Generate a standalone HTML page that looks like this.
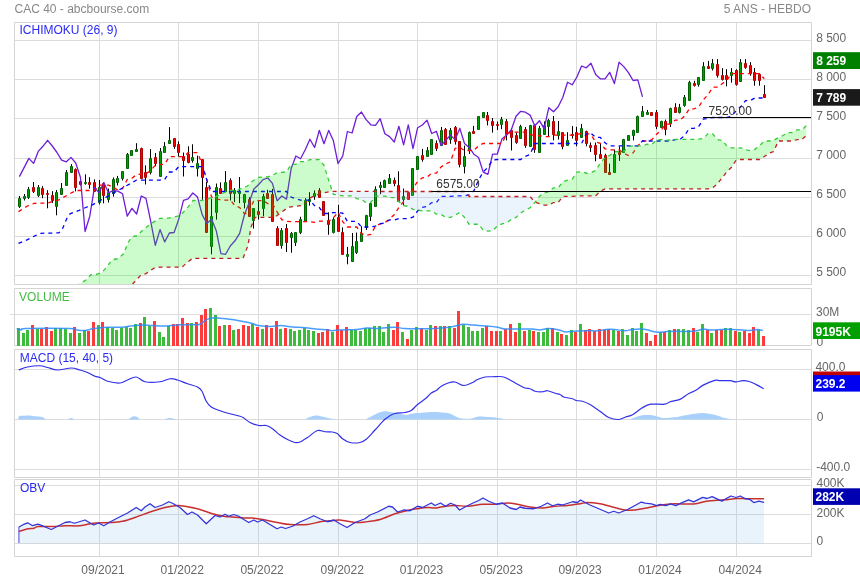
<!DOCTYPE html><html><head><meta charset="utf-8"><style>html,body{margin:0;padding:0;background:#fff;}svg{display:block;}text{font-family:"Liberation Sans",Arial,sans-serif;font-size:12px;will-change:transform;}</style></head><body>
<svg width="860" height="580" viewBox="0 0 860 580">
<rect width="860" height="580" fill="#fff"/>
<text x="14.5" y="12.6" fill="#888">CAC 40 - abcbourse.com</text>
<text x="811" y="12.6" fill="#888" text-anchor="end">5 ANS - HEBDO</text>
<path d="M14.5 40.5H811.5M14.5 79.5H811.5M14.5 118.5H811.5M14.5 158.5H811.5M14.5 197.5H811.5M14.5 236.5H811.5M14.5 275.5H811.5M99.5 22.5V284.5M178.5 22.5V284.5M258.5 22.5V284.5M338.5 22.5V284.5M417.5 22.5V284.5M497.5 22.5V284.5M576.5 22.5V284.5M656.5 22.5V284.5M736.5 22.5V284.5M14.5 314.5H811.5M99.5 288.5V345.5M178.5 288.5V345.5M258.5 288.5V345.5M338.5 288.5V345.5M417.5 288.5V345.5M497.5 288.5V345.5M576.5 288.5V345.5M656.5 288.5V345.5M736.5 288.5V345.5M14.5 369.5H811.5M14.5 419.5H811.5M14.5 469.5H811.5M99.5 349.5V477.5M178.5 349.5V477.5M258.5 349.5V477.5M338.5 349.5V477.5M417.5 349.5V477.5M497.5 349.5V477.5M576.5 349.5V477.5M656.5 349.5V477.5M736.5 349.5V477.5M14.5 485.5H811.5M14.5 514.5H811.5M14.5 543.5H811.5M99.5 479.5V556.5M178.5 479.5V556.5M258.5 479.5V556.5M338.5 479.5V556.5M417.5 479.5V556.5M497.5 479.5V556.5M576.5 479.5V556.5M656.5 479.5V556.5M736.5 479.5V556.5" stroke="#dcdcdc" stroke-width="1" fill="none"/>
<path d="M14.5 22.5H811.5V284.5H14.5ZM14.5 288.5H811.5V345.5H14.5ZM14.5 349.5H811.5V477.5H14.5ZM14.5 479.5H811.5V556.5H14.5Z" stroke="#d4d4d4" fill="none"/>
<path d="M10 314.5H14.5" stroke="#dcdcdc"/>
<defs><clipPath id="cm"><rect x="15" y="23" width="796" height="261"/></clipPath></defs>
<g clip-path="url(#cm)">
<path d="M19.5 196V208M24.5 194V200.5M28.5 187V199M33.5 182V193M38.5 185V197M42.5 186.1V198.2M47.5 190.2V208.3M52.5 191.2V202.9M56.5 190V215.3M61.5 183V195M66.5 170V186M71.5 164.1V173M75.5 168.4V191.4M80.5 179.3V185.5M85.5 174.3V184.7M89.5 177.2V188.6M94.5 179.3V192M99.5 180V204.4M103.5 182.7V203.3M108.5 188.6V202.5M113.5 177.4V196.6M117.5 175.9V185.5M122.5 171.2V180.5M127.5 153V168.4M131.5 150.3V155.6M136.5 143.2V152M141.5 147.6V178.3M145.5 165.4V184.5M150.5 149.1V174.4M155.5 153V166.2M160.5 148V176.7M164.5 142.1V152.5M169.5 127.1V142.9M174.5 138.3V148.8M178.5 141.4V156.6M183.5 152.5V176.5M188.5 146.3V163.3M192.5 144.3V162.6M197.5 155.6V176.5M202.5 159.1V199.8M206.5 182V231.5M211.5 198.7V254.3M216.5 183.5V219.6M220.5 182.4V194M225.5 171.1V191.2M230.5 178.4V200.5M234.5 188.1V202.1M239.5 177V203.2M244.5 193.8V208.4M249.5 197.2V216.2M253.5 208.4V228.6M258.5 200.5V219.6M263.5 193.8V216.2M267.5 189.8V198.3M272.5 188.9V221.2M277.5 226.2V245.3M281.5 228V248.7M286.5 224V252M291.5 232V252.7M295.5 232.5V246M300.5 216.8V234.1M305.5 198.2V221.3M309.5 192.2V205.6M314.5 190.4V199.8M319.5 188.1V197.1M323.5 201.1V215.5M328.5 212.3V234.8M333.5 217.3V233.4M338.5 204.9V230.7M342.5 227.4V253.6M347.5 246.9V264.3M352.5 233V262M356.5 232.5V254M361.5 226.2V242M366.5 214.8V230M370.5 203.1V221M375.5 186.3V206.5M380.5 181.8V194.2M384.5 179.6V187.4M389.5 174V183.4M394.5 177.6V186.3M398.5 171.3V202M403.5 188.6V205.4M408.5 191.9V199.1M412.5 168.4V195.3M417.5 156V169.1M422.5 148.9V161.7M427.5 147.1V156.5M431.5 139.2V153.8M436.5 140.4V151.1M441.5 126.9V146M445.5 128V143.7M450.5 128V143.8M455.5 126V144.6M459.5 141.1V167.4M464.5 145.6V173.4M469.5 131.5V153.9M473.5 125.9V133M478.5 116.5V128.6M483.5 112V116.9M487.5 112V125.4M492.5 118V132.6M497.5 121.5V129.9M501.5 116.9V129.2M506.5 119.1V140.4M511.5 128.2V150.5M516.5 132.6V143.8M520.5 124.8V138.2M525.5 127V147.8M530.5 124.8V145.6M534.5 124.8V152.8M539.5 125.9V151.5M544.5 121.4V134M548.5 118.9V136.2M553.5 116V140.3M558.5 121V139.6M562.5 132.2V149.2M567.5 132.2V145.2M572.5 126.1V138.5M576.5 126.8V146.3M581.5 123.9V136.7M586.5 130.6V146.3M590.5 142.5V151.9M595.5 142.5V161.3M600.5 143.4V158.7M605.5 153.7V172.1M609.5 163.6V174.3M614.5 149.7V171.7M619.5 146.3V160.9M623.5 138.9V152.4M628.5 135.1V140.3M633.5 129.7V140.4M637.5 115.6V131.9M642.5 106.1V116.2M647.5 110V115M651.5 112V115.1M656.5 110V129.2M661.5 120.7V127M665.5 119.6V135.3M670.5 107.7V127M675.5 103.2V111.7M679.5 103.9V113.5M684.5 95V106.8M689.5 80.8V100.1M694.5 80.8V86.6M698.5 77V86.6M703.5 62.2V80.5M708.5 60.9V68.6M712.5 59.1V70.5M717.5 59.1V77.7M722.5 68.1V80.5M726.5 69.2V86.4M731.5 68.1V82.6M736.5 69.2V85.7M740.5 59.1V81.3M745.5 59.1V68.8M750.5 62.2V75.7M754.5 68.1V85.7M759.5 74.3V85.7M764.5 85.2V96.8" stroke="#000" stroke-width="1" fill="none"/>
<path d="M18.5 198.5h2v8h-2zM23.5 196.5h2v2h-2zM27.5 189.5h2v8h-2zM37.5 187.5h2v8h-2zM55.5 192.5h2v14h-2zM60.5 188.5h2v6h-2zM65.5 172.5h2v13h-2zM70.5 166.5h2v6h-2zM84.5 182.5h2v1h-2zM98.5 187.5h2v15h-2zM107.5 192.5h2v7h-2zM112.5 179.5h2v14h-2zM116.5 178.5h2v4h-2zM121.5 171.5h2v7h-2zM126.5 154.5h2v14h-2zM130.5 150.5h2v5h-2zM135.5 149.5h2v2h-2zM149.5 158.5h2v14h-2zM159.5 151.5h2v25h-2zM163.5 146.5h2v6h-2zM168.5 140.5h2v3h-2zM191.5 157.5h2v3h-2zM196.5 163.5h2v5h-2zM210.5 216.5h2v30h-2zM215.5 187.5h2v25h-2zM224.5 182.5h2v9h-2zM233.5 190.5h2v3h-2zM238.5 191.5h2v2h-2zM243.5 194.5h2v8h-2zM252.5 208.5h2v12h-2zM262.5 196.5h2v12h-2zM280.5 230.5h2v15h-2zM290.5 233.5h2v4h-2zM294.5 232.5h2v10h-2zM299.5 219.5h2v13h-2zM304.5 200.5h2v21h-2zM308.5 199.5h2v2h-2zM313.5 193.5h2v3h-2zM332.5 219.5h2v13h-2zM346.5 254.5h2v2h-2zM351.5 246.5h2v15h-2zM355.5 241.5h2v11h-2zM360.5 233.5h2v8h-2zM365.5 215.5h2v12h-2zM369.5 203.5h2v13h-2zM374.5 189.5h2v17h-2zM379.5 185.5h2v2h-2zM383.5 180.5h2v7h-2zM388.5 178.5h2v5h-2zM402.5 196.5h2v3h-2zM411.5 168.5h2v27h-2zM416.5 156.5h2v13h-2zM426.5 150.5h2v6h-2zM430.5 139.5h2v15h-2zM440.5 130.5h2v15h-2zM449.5 130.5h2v9h-2zM463.5 156.5h2v10h-2zM468.5 132.5h2v18h-2zM477.5 116.5h2v13h-2zM482.5 112.5h2v5h-2zM500.5 119.5h2v5h-2zM519.5 126.5h2v12h-2zM529.5 125.5h2v21h-2zM538.5 128.5h2v24h-2zM543.5 125.5h2v9h-2zM547.5 120.5h2v6h-2zM557.5 131.5h2v4h-2zM566.5 140.5h2v5h-2zM580.5 128.5h2v9h-2zM613.5 154.5h2v18h-2zM622.5 139.5h2v13h-2zM627.5 135.5h2v5h-2zM632.5 130.5h2v5h-2zM636.5 116.5h2v16h-2zM641.5 111.5h2v5h-2zM646.5 112.5h2v2h-2zM660.5 121.5h2v6h-2zM669.5 108.5h2v15h-2zM678.5 107.5h2v5h-2zM683.5 97.5h2v8h-2zM688.5 82.5h2v18h-2zM697.5 77.5h2v7h-2zM702.5 66.5h2v14h-2zM711.5 63.5h2v5h-2zM730.5 72.5h2v3h-2zM739.5 62.5h2v19h-2z" stroke="#006400" stroke-width="1" fill="#00a000"/>
<path d="M32.5 187.5h2v4h-2zM41.5 188.5h2v6h-2zM46.5 193.5h2v1h-2zM51.5 195.5h2v5h-2zM74.5 169.5h2v18h-2zM79.5 181.5h2v3h-2zM88.5 182.5h2v2h-2zM93.5 182.5h2v9h-2zM102.5 183.5h2v12h-2zM140.5 148.5h2v30h-2zM144.5 172.5h2v5h-2zM154.5 157.5h2v6h-2zM173.5 138.5h2v8h-2zM177.5 144.5h2v8h-2zM182.5 156.5h2v4h-2zM187.5 154.5h2v8h-2zM201.5 159.5h2v18h-2zM205.5 187.5h2v45h-2zM219.5 188.5h2v5h-2zM229.5 180.5h2v13h-2zM248.5 199.5h2v17h-2zM257.5 211.5h2v3h-2zM266.5 193.5h2v5h-2zM271.5 194.5h2v27h-2zM276.5 228.5h2v17h-2zM285.5 228.5h2v14h-2zM318.5 190.5h2v7h-2zM322.5 201.5h2v14h-2zM327.5 220.5h2v4h-2zM337.5 217.5h2v14h-2zM341.5 232.5h2v22h-2zM393.5 180.5h2v3h-2zM397.5 185.5h2v16h-2zM407.5 192.5h2v7h-2zM421.5 155.5h2v4h-2zM435.5 143.5h2v5h-2zM444.5 129.5h2v15h-2zM454.5 127.5h2v14h-2zM458.5 141.5h2v23h-2zM472.5 131.5h2v2h-2zM486.5 115.5h2v5h-2zM491.5 121.5h2v4h-2zM496.5 124.5h2v1h-2zM505.5 121.5h2v13h-2zM510.5 130.5h2v7h-2zM515.5 135.5h2v7h-2zM524.5 129.5h2v16h-2zM533.5 125.5h2v24h-2zM552.5 121.5h2v13h-2zM561.5 132.5h2v14h-2zM571.5 134.5h2v1h-2zM575.5 132.5h2v8h-2zM585.5 131.5h2v12h-2zM589.5 145.5h2v2h-2zM594.5 145.5h2v9h-2zM599.5 154.5h2v4h-2zM604.5 155.5h2v17h-2zM608.5 172.5h2v2h-2zM618.5 152.5h2v2h-2zM650.5 112.5h2v3h-2zM655.5 112.5h2v14h-2zM664.5 121.5h2v8h-2zM674.5 107.5h2v5h-2zM693.5 83.5h2v2h-2zM707.5 66.5h2v2h-2zM716.5 64.5h2v11h-2zM721.5 75.5h2v4h-2zM725.5 75.5h2v4h-2zM735.5 70.5h2v14h-2zM744.5 63.5h2v4h-2zM749.5 65.5h2v8h-2zM753.5 72.5h2v8h-2zM758.5 74.5h2v6h-2zM763.5 94.5h2v3h-2z" stroke="#b00000" stroke-width="1" fill="#ff0000"/>
<polyline points="19.4,176.6 28.87,158.4 33.56,163.4 38.24,151.4 42.92,146.3 47.61,140.3 52.29,146 56.98,152.5 61.66,160.2 66.34,161.8 71.03,157.4 75.71,163 80.4,177.3 85.08,231.5 89.76,216.2 94.45,187.4 99.13,192.8 103.82,182.4 108.5,192.8 113.19,190.5 117.87,191.1 122.55,193.8 127.24,216.2 131.92,208.4 136.61,214 141.29,196 145.97,198.3 150.66,221.2 155.34,245.3 160.03,229.6 164.71,241.9 169.39,233 174.08,232.5 178.76,219.1 183.45,200.4 188.13,198.9 192.82,193 197.5,197.1 202.18,214.6 206.87,223.5 211.55,219.1 216.24,230.7 220.92,253.6 225.6,254.3 230.29,246 234.97,240.8 239.66,233.4 244.34,215 249.03,203.1 253.71,189.2 258.39,184.8 263.08,179.6 267.76,178 272.45,183.4 277.13,200.9 281.81,196 286.5,199.1 291.18,168.4 295.87,156 300.55,158.7 305.23,149.8 309.92,139.2 314.6,147.5 319.29,130.3 323.97,143.7 328.66,130.4 333.34,140.6 338.02,163.5 342.71,156.1 347.39,131.5 352.08,133 356.76,116.5 361.44,112 366.13,119.6 370.81,124.8 375.5,125.4 380.18,118.7 384.86,133.7 389.55,136.6 394.23,142 398.92,126.3 403.6,144.9 408.29,124.8 412.97,148.7 417.65,127.7 422.34,125 427.02,120.1 431.71,133.5 436.39,131.3 441.07,145.6 445.76,140.3 450.44,135.1 455.13,139.6 459.81,128.4 464.49,143.4 469.18,147.4 473.86,154.2 478.55,157.5 483.23,172.1 487.92,174.3 492.6,154.2 497.28,154.2 501.97,138.9 506.65,135.1 511.34,129.7 516.02,116.2 520.7,111.3 525.39,112.2 530.07,115.1 534.76,125.7 539.44,120.7 544.12,128.6 548.81,107.7 553.49,111.7 558.18,106.8 562.86,97.2 567.55,82.2 572.23,84.8 576.91,77 581.6,66 586.28,67.8 590.97,63.3 595.65,74.6 600.33,78.8 605.02,78.8 609.7,72.3 614.39,83.6 619.07,62.2 623.75,66.6 628.44,72.6 633.12,80.5 637.81,79.8 642.49,96.8" fill="none" stroke="#6e1ed8" stroke-width="1.3" stroke-linejoin="round"/>
<polyline points="18.5,211.6 27.5,206 34.2,203.3 47.6,203 58.8,199.9 75.71,190.5 80.4,190.5 85.08,190.5 89.76,190.5 94.45,190.5 99.13,185.05 103.82,185.05 108.5,185.05 113.19,187.2 117.87,190.15 122.55,188.6 127.24,179.5 131.92,178.15 136.61,174.6 141.29,174.05 145.97,173.65 150.66,170.7 155.34,165.15 160.03,164.65 164.71,164.1 169.39,156.6 174.08,156.6 178.76,156.6 183.45,156.6 188.13,152.7 192.82,152.7 197.5,152.7 202.18,164.25 206.87,180.1 211.55,197.1 216.24,198.65 220.92,200.1 225.6,200.1 230.29,200.1 234.97,205.75 239.66,207.5 244.34,213.5 249.03,213.5 253.71,200.65 258.39,200.65 263.08,200.65 267.76,203.6 272.45,203.6 277.13,211.95 281.81,219.6 286.5,221.25 291.18,221.6 295.87,221.6 300.55,221.6 305.23,221.6 309.92,221.6 314.6,222.35 319.29,221.2 323.97,221.2 328.66,221.2 333.34,217.85 338.02,212.25 342.71,221.65 347.39,227 352.08,227 356.76,227 361.44,233.5 366.13,235.4 370.81,234.5 375.5,226.1 380.18,223.85 384.86,222.75 389.55,218.8 394.23,214.8 398.92,207.45 403.6,201.45 408.29,196.95 412.97,188.25 417.65,181.5 422.34,177.95 427.02,177.05 431.71,173.1 436.39,173.1 441.07,166.95 445.76,163.8 450.44,161.9 455.13,148.35 459.81,147.5 464.49,150.5 469.18,150.5 473.86,150.45 478.55,145.75 483.23,143.5 487.92,143.5 492.6,143.5 497.28,143.5 501.97,143.5 506.65,133.75 511.34,132.05 516.02,132.05 520.7,132.05 525.39,132.05 530.07,134.5 534.76,135.65 539.44,135.65 544.12,136.75 548.81,136.65 553.49,135.2 558.18,135.2 562.86,135.2 567.55,135.2 572.23,135.2 576.91,134.55 581.6,133.4 586.28,133.4 590.97,134.75 595.65,141.95 600.33,143.4 605.02,148.8 609.7,149.9 614.39,149.9 619.07,149.9 623.75,153.25 628.44,155.5 633.12,152.8 637.81,145.75 642.49,141 647.18,141 651.86,139.7 656.54,134.3 661.23,130.05 665.91,124.05 670.6,124.05 675.28,120.05 679.96,120.05 684.65,115.95 689.33,108.85 694.02,108.85 698.7,106.95 703.38,99.55 708.07,94.75 712.75,87.1 717.44,87.1 722.12,83.75 726.81,80.4 731.49,73.65 736.17,73.65 740.86,73.55 745.54,73.55 750.23,73.55 754.91,73.55 759.59,73.55 764.28,78.75" fill="none" stroke="#ff0000" stroke-width="1.3" stroke-dasharray="4,4"/>
<polyline points="18.5,243.4 27.5,239.6 36.4,235.1 40.9,233.3 58.8,232.9 62.2,229.5 66.7,218.7 70,213.8 79,210.4 85.7,207.5 92.5,204.8 136.61,180.05 141.29,180.05 145.97,180.05 150.66,180.05 155.34,180.05 160.03,180.05 164.71,179.5 169.39,172 174.08,172 178.76,166.55 183.45,166.55 188.13,166.55 192.82,166.55 197.5,166.55 202.18,166.55 206.87,180.1 211.55,191.5 216.24,191.5 220.92,191.5 225.6,191.5 230.29,191.5 234.97,191.5 239.66,191.5 244.34,191.5 249.03,191.5 253.71,191.5 258.39,191.5 263.08,191.5 267.76,191.5 272.45,191.5 277.13,191.5 281.81,191.5 286.5,191.5 291.18,197.1 295.87,198.65 300.55,200.1 305.23,200.1 309.92,200.1 314.6,205.75 319.29,207.5 323.97,213.5 328.66,213.5 333.34,212.7 338.02,212.7 342.71,213.15 347.39,221.45 352.08,221.45 356.76,221.45 361.44,227 366.13,227 370.81,227 375.5,226.1 380.18,223.85 384.86,222.75 389.55,219.95 394.23,219.95 398.92,218.6 403.6,218.6 408.29,218.6 412.97,217.15 417.65,210.95 422.34,207.4 427.02,206.5 431.71,202.55 436.39,202.55 441.07,196.4 445.76,196.4 450.44,196.4 455.13,195.95 459.81,195.95 464.49,195.95 469.18,194.8 473.86,190.75 478.55,180.05 483.23,171.8 487.92,167.3 492.6,160.05 497.28,159.5 501.97,159.5 506.65,159.5 511.34,159.5 516.02,159.5 520.7,159.5 525.39,156.35 530.07,154.45 534.76,143.5 539.44,143.5 544.12,143.5 548.81,143.5 553.49,143.5 558.18,143.5 562.86,143.5 567.55,143.5 572.23,143.5 576.91,143.5 581.6,143.5 586.28,133.75 590.97,133.2 595.65,137.45 600.33,137.45 605.02,142.85 609.7,145.95 614.39,145.95 619.07,145.95 623.75,145.95 628.44,145.95 633.12,145.95 637.81,145.75 642.49,141 647.18,141 651.86,141 656.54,141 661.23,141 665.91,141 670.6,141 675.28,139.55 679.96,139.55 684.65,135.45 689.33,128.35 694.02,128.35 698.7,126.45 703.38,119.05 708.07,118.4 712.75,117.5 717.44,117.5 722.12,117.5 726.81,117.5 731.49,116.2 736.17,110.8 740.86,106.55 745.54,100.55 750.23,100.55 754.91,98 759.59,98 764.28,98" fill="none" stroke="#0000ff" stroke-width="1.3" stroke-dasharray="4,4"/>
<defs><clipPath id="abA"><polygon points="15,300 70,292 78.6,284.5 86.4,279.7 90.7,274.8 97.6,274.1 101.9,272.4 106.2,267.6 112.2,259.8 118.3,258.6 123.4,253.8 125,250.08 128.6,241.7 132.1,236.6 137.2,235.7 140.7,232.2 142.4,230.5 145.9,227.69 151,223.6 154.5,221.51 159.7,218.4 168.3,218.1 175.2,216.7 180.3,215.5 182.1,213.54 184.7,210.7 187.2,207.87 190,204.7 192.6,201.06 193,200.5 200,200.5 205,200 210,198.2 216,196.7 222,193.6 230,190.5 238,189.7 243,187.75 247.5,186 248,185.5 250.9,182.6 252,181.5 255,179.54 258.39,177.33 263.08,177.05 267.76,176.85 272.45,175.38 274.7,174.04 277.13,172.6 281.81,172.35 286.5,171.8 288.2,169.07 291.18,164.3 295.87,164.3 300.55,161.58 301.6,161.58 305,161.58 305.23,161.58 309.5,159.8 309.92,159.62 314,159.62 314.6,159.62 319.29,159.62 321.8,162.72 323.97,165.4 328.66,180.1 330.8,186.6 333.34,194.3 338.02,195.08 342.71,195.8 347.39,195.8 352.08,195.8 356.76,198.62 361.44,199.5 366.13,202.5 370.81,202.5 375,196.76 375.5,196.07 380.18,196.07 384.86,196.07 389.55,197.55 394.23,197.55 398.92,201.73 403.6,205.55 408.29,206.38 412.97,209.35 417.65,210.13 422.34,210.85 427.02,210.85 431.71,210.85 436.39,214.05 441.07,214.35 445.76,217.35 450.44,217.35 455.13,215.28 459.81,212.47 464.49,217.4 469.18,224.23 473.86,224.23 478.55,224.23 483.23,230.25 487.92,231.2 492.6,230.75 497.28,226.1 501.97,223.85 506.65,222.75 511.34,219.38 516.02,217.38 520.7,213.03 525.39,210.03 530.07,207.78 534.76,202.7 539.44,196.23 544.12,192.68 548.81,191.78 553.49,187.83 558.18,187.83 562.86,181.68 567.55,180.1 572.23,179.15 576.91,172.15 581.6,171.73 586.28,173.23 590.97,172.65 595.65,170.6 600.33,162.9 605.02,157.65 609.7,155.4 614.39,151.78 619.07,151.5 623.75,151.5 628.44,146.62 633.12,145.78 637.81,145.78 642.49,145.78 647.18,144.2 651.86,144.48 656.54,139.58 661.23,139.58 665.91,140.12 670.6,140.08 675.28,139.35 679.96,139.35 684.65,139.35 689.33,139.35 694.02,139.35 698.7,139.03 703.38,138.45 708.07,133.57 712.75,133.98 717.44,139.7 722.12,140.43 726.81,145.83 731.49,147.93 736.17,147.93 740.86,147.93 745.54,149.6 750.23,150.73 754.91,149.38 759.59,145.75 764.28,141 768.96,141 773.65,140.35 778.33,137.65 783.01,135.53 787.7,132.53 792.38,132.53 797.07,129.8 801.75,129.8 806.44,125.7 806.44,300 15,300"/></clipPath></defs>
<defs><clipPath id="abB"><polygon points="15,300 70,292 78.6,284.5 86.4,279.7 90.7,274.8 97.6,274.1 101.9,272.4 106.2,267.6 112.2,259.8 118.3,258.6 123.4,253.8 125,250.08 128.6,241.7 132.1,236.6 137.2,235.7 140.7,232.2 142.4,230.5 145.9,227.69 151,223.6 154.5,221.51 159.7,218.4 168.3,218.1 175.2,216.7 180.3,215.5 182.1,213.54 184.7,210.7 187.2,207.87 190,204.7 192.6,201.06 193,200.5 200,200.5 205,200 210,198.2 216,196.7 222,193.6 230,190.5 238,189.7 243,187.75 247.5,186 248,185.5 250.9,182.6 252,181.5 255,179.54 258.39,177.33 263.08,177.05 267.76,176.85 272.45,175.38 274.7,174.04 277.13,172.6 281.81,172.35 286.5,171.8 288.2,169.07 291.18,164.3 295.87,164.3 300.55,161.58 301.6,161.58 305,161.58 305.23,161.58 309.5,159.8 309.92,159.62 314,159.62 314.6,159.62 319.29,159.62 321.8,162.72 323.97,165.4 328.66,180.1 330.8,186.6 333.34,194.3 338.02,195.08 342.71,195.8 347.39,195.8 352.08,195.8 356.76,198.62 361.44,199.5 366.13,202.5 370.81,202.5 375,196.76 375.5,196.07 380.18,196.07 384.86,196.07 389.55,197.55 394.23,197.55 398.92,201.73 403.6,205.55 408.29,206.38 412.97,209.35 417.65,210.13 422.34,210.85 427.02,210.85 431.71,210.85 436.39,214.05 441.07,214.35 445.76,217.35 450.44,217.35 455.13,215.28 459.81,212.47 464.49,217.4 469.18,224.23 473.86,224.23 478.55,224.23 483.23,230.25 487.92,231.2 492.6,230.75 497.28,226.1 501.97,223.85 506.65,222.75 511.34,219.38 516.02,217.38 520.7,213.03 525.39,210.03 530.07,207.78 534.76,202.7 539.44,196.23 544.12,192.68 548.81,191.78 553.49,187.83 558.18,187.83 562.86,181.68 567.55,180.1 572.23,179.15 576.91,172.15 581.6,171.73 586.28,173.23 590.97,172.65 595.65,170.6 600.33,162.9 605.02,157.65 609.7,155.4 614.39,151.78 619.07,151.5 623.75,151.5 628.44,146.62 633.12,145.78 637.81,145.78 642.49,145.78 647.18,144.2 651.86,144.48 656.54,139.58 661.23,139.58 665.91,140.12 670.6,140.08 675.28,139.35 679.96,139.35 684.65,139.35 689.33,139.35 694.02,139.35 698.7,139.03 703.38,138.45 708.07,133.57 712.75,133.98 717.44,139.7 722.12,140.43 726.81,145.83 731.49,147.93 736.17,147.93 740.86,147.93 745.54,149.6 750.23,150.73 754.91,149.38 759.59,145.75 764.28,141 768.96,141 773.65,140.35 778.33,137.65 783.01,135.53 787.7,132.53 792.38,132.53 797.07,129.8 801.75,129.8 806.44,125.7 806.44,0 15,0"/></clipPath></defs>
<polygon points="15,300 70,292 78.6,284.5 86.4,279.7 90.7,274.8 97.6,274.1 101.9,272.4 106.2,267.6 112.2,259.8 118.3,258.6 123.4,253.8 125,250.08 128.6,241.7 132.1,236.6 137.2,235.7 140.7,232.2 142.4,230.5 145.9,227.69 151,223.6 154.5,221.51 159.7,218.4 168.3,218.1 175.2,216.7 180.3,215.5 182.1,213.54 184.7,210.7 187.2,207.87 190,204.7 192.6,201.06 193,200.5 200,200.5 205,200 210,198.2 216,196.7 222,193.6 230,190.5 238,189.7 243,187.75 247.5,186 248,185.5 250.9,182.6 252,181.5 255,179.54 258.39,177.33 263.08,177.05 267.76,176.85 272.45,175.38 274.7,174.04 277.13,172.6 281.81,172.35 286.5,171.8 288.2,169.07 291.18,164.3 295.87,164.3 300.55,161.58 301.6,161.58 305,161.58 305.23,161.58 309.5,159.8 309.92,159.62 314,159.62 314.6,159.62 319.29,159.62 321.8,162.72 323.97,165.4 328.66,180.1 330.8,186.6 333.34,194.3 338.02,195.08 342.71,195.8 347.39,195.8 352.08,195.8 356.76,198.62 361.44,199.5 366.13,202.5 370.81,202.5 375,196.76 375.5,196.07 380.18,196.07 384.86,196.07 389.55,197.55 394.23,197.55 398.92,201.73 403.6,205.55 408.29,206.38 412.97,209.35 417.65,210.13 422.34,210.85 427.02,210.85 431.71,210.85 436.39,214.05 441.07,214.35 445.76,217.35 450.44,217.35 455.13,215.28 459.81,212.47 464.49,217.4 469.18,224.23 473.86,224.23 478.55,224.23 483.23,230.25 487.92,231.2 492.6,230.75 497.28,226.1 501.97,223.85 506.65,222.75 511.34,219.38 516.02,217.38 520.7,213.03 525.39,210.03 530.07,207.78 534.76,202.7 539.44,196.23 544.12,192.68 548.81,191.78 553.49,187.83 558.18,187.83 562.86,181.68 567.55,180.1 572.23,179.15 576.91,172.15 581.6,171.73 586.28,173.23 590.97,172.65 595.65,170.6 600.33,162.9 605.02,157.65 609.7,155.4 614.39,151.78 619.07,151.5 623.75,151.5 628.44,146.62 633.12,145.78 637.81,145.78 642.49,145.78 647.18,144.2 651.86,144.48 656.54,139.58 661.23,139.58 665.91,140.12 670.6,140.08 675.28,139.35 679.96,139.35 684.65,139.35 689.33,139.35 694.02,139.35 698.7,139.03 703.38,138.45 708.07,133.57 712.75,133.98 717.44,139.7 722.12,140.43 726.81,145.83 731.49,147.93 736.17,147.93 740.86,147.93 745.54,149.6 750.23,150.73 754.91,149.38 759.59,145.75 764.28,141 768.96,141 773.65,140.35 778.33,137.65 783.01,135.53 787.7,132.53 792.38,132.53 797.07,129.8 801.75,129.8 806.44,125.7 806.44,135.45 801.75,139.55 797.07,139.55 792.38,141 787.7,141 783.01,141 778.33,141 773.65,151.5 768.96,153.4 764.28,156.55 759.59,159.5 754.91,159.5 750.23,159.5 745.54,159.5 740.86,159.5 736.17,160.05 731.49,167.3 726.81,171.8 722.12,177.8 717.44,183.8 712.75,187.8 708.07,188.95 703.38,188.95 698.7,188.95 694.02,188.95 689.33,188.95 684.65,188.95 679.96,188.95 675.28,188.95 670.6,188.95 665.91,188.95 661.23,188.95 656.54,188.95 651.86,188.95 647.18,188.95 642.49,188.95 637.81,188.95 633.12,188.95 628.44,188.95 623.75,188.95 619.07,188.95 614.39,188.95 609.7,188.95 605.02,188.95 600.33,191.2 595.65,195.9 590.97,195.95 586.28,195.95 581.6,195.95 576.91,195.95 572.23,196.4 567.55,196.4 562.86,196.4 558.18,202.55 553.49,202.55 548.81,205.1 544.12,205.1 539.44,203.65 534.76,202.1 530.07,196.5 525.39,196.5 520.7,196.5 516.02,196.5 511.34,196.5 506.65,196.5 501.97,196.5 497.28,196.5 492.6,196.5 487.92,196.5 483.23,196.5 478.55,196.5 473.86,196.5 469.18,196.5 464.49,191.5 459.81,191.5 455.13,191.5 450.44,191.5 445.76,191.5 441.07,191.5 436.39,191.5 431.71,191.5 427.02,191.5 422.34,191.5 417.65,191.5 412.97,191.5 408.29,191.5 403.6,191.5 398.92,191.5 394.23,191.5 389.55,191.5 384.86,191.5 380.18,191.5 375.5,191.41 375,191.4 370.81,191.4 366.13,191.4 361.44,191.4 356.76,191.4 352.08,191.4 347.39,191.4 342.71,191.4 338.02,191.4 333.34,191.4 330.8,191.4 328.66,191.83 323.97,192.77 321.8,193.2 319.29,194.1 314.6,195.78 314,196 309.92,198 309.5,198.2 305.23,203.51 305,203.8 301.6,205.6 300.55,205.73 295.87,206.28 291.18,206.84 288.2,207.2 286.5,208.47 281.81,211.98 277.13,215.48 274.7,217.3 272.45,217.31 267.76,217.34 263.08,217.36 258.39,217.38 255,217.4 252,224.72 250.9,227.4 248,245.4 247.5,246.7 243,258.4 238,258.4 230,258.4 222,258.4 216,258.4 210,258.4 205,258.4 200,258.4 193,258.4 192.6,258.4 190,260.33 187.2,262.4 184.7,264.75 182.1,267.2 180.3,267.2 175.2,267.2 168.3,267.2 159.7,267.2 154.5,267.9 151,270.22 145.9,273.6 142.4,274.74 140.7,275.3 137.2,279.04 132.1,284.5 128.6,292.14 125,300 123.4,300.15 118.3,300.61 112.2,301.16 106.2,301.71 101.9,302.1 97.6,302.49 90.7,303.12 86.4,303.51 78.6,304.22 70,305 15,310" fill="#00f000" fill-opacity="0.2" clip-path="url(#abA)"/>
<polygon points="15,300 70,292 78.6,284.5 86.4,279.7 90.7,274.8 97.6,274.1 101.9,272.4 106.2,267.6 112.2,259.8 118.3,258.6 123.4,253.8 125,250.08 128.6,241.7 132.1,236.6 137.2,235.7 140.7,232.2 142.4,230.5 145.9,227.69 151,223.6 154.5,221.51 159.7,218.4 168.3,218.1 175.2,216.7 180.3,215.5 182.1,213.54 184.7,210.7 187.2,207.87 190,204.7 192.6,201.06 193,200.5 200,200.5 205,200 210,198.2 216,196.7 222,193.6 230,190.5 238,189.7 243,187.75 247.5,186 248,185.5 250.9,182.6 252,181.5 255,179.54 258.39,177.33 263.08,177.05 267.76,176.85 272.45,175.38 274.7,174.04 277.13,172.6 281.81,172.35 286.5,171.8 288.2,169.07 291.18,164.3 295.87,164.3 300.55,161.58 301.6,161.58 305,161.58 305.23,161.58 309.5,159.8 309.92,159.62 314,159.62 314.6,159.62 319.29,159.62 321.8,162.72 323.97,165.4 328.66,180.1 330.8,186.6 333.34,194.3 338.02,195.08 342.71,195.8 347.39,195.8 352.08,195.8 356.76,198.62 361.44,199.5 366.13,202.5 370.81,202.5 375,196.76 375.5,196.07 380.18,196.07 384.86,196.07 389.55,197.55 394.23,197.55 398.92,201.73 403.6,205.55 408.29,206.38 412.97,209.35 417.65,210.13 422.34,210.85 427.02,210.85 431.71,210.85 436.39,214.05 441.07,214.35 445.76,217.35 450.44,217.35 455.13,215.28 459.81,212.47 464.49,217.4 469.18,224.23 473.86,224.23 478.55,224.23 483.23,230.25 487.92,231.2 492.6,230.75 497.28,226.1 501.97,223.85 506.65,222.75 511.34,219.38 516.02,217.38 520.7,213.03 525.39,210.03 530.07,207.78 534.76,202.7 539.44,196.23 544.12,192.68 548.81,191.78 553.49,187.83 558.18,187.83 562.86,181.68 567.55,180.1 572.23,179.15 576.91,172.15 581.6,171.73 586.28,173.23 590.97,172.65 595.65,170.6 600.33,162.9 605.02,157.65 609.7,155.4 614.39,151.78 619.07,151.5 623.75,151.5 628.44,146.62 633.12,145.78 637.81,145.78 642.49,145.78 647.18,144.2 651.86,144.48 656.54,139.58 661.23,139.58 665.91,140.12 670.6,140.08 675.28,139.35 679.96,139.35 684.65,139.35 689.33,139.35 694.02,139.35 698.7,139.03 703.38,138.45 708.07,133.57 712.75,133.98 717.44,139.7 722.12,140.43 726.81,145.83 731.49,147.93 736.17,147.93 740.86,147.93 745.54,149.6 750.23,150.73 754.91,149.38 759.59,145.75 764.28,141 768.96,141 773.65,140.35 778.33,137.65 783.01,135.53 787.7,132.53 792.38,132.53 797.07,129.8 801.75,129.8 806.44,125.7 806.44,135.45 801.75,139.55 797.07,139.55 792.38,141 787.7,141 783.01,141 778.33,141 773.65,151.5 768.96,153.4 764.28,156.55 759.59,159.5 754.91,159.5 750.23,159.5 745.54,159.5 740.86,159.5 736.17,160.05 731.49,167.3 726.81,171.8 722.12,177.8 717.44,183.8 712.75,187.8 708.07,188.95 703.38,188.95 698.7,188.95 694.02,188.95 689.33,188.95 684.65,188.95 679.96,188.95 675.28,188.95 670.6,188.95 665.91,188.95 661.23,188.95 656.54,188.95 651.86,188.95 647.18,188.95 642.49,188.95 637.81,188.95 633.12,188.95 628.44,188.95 623.75,188.95 619.07,188.95 614.39,188.95 609.7,188.95 605.02,188.95 600.33,191.2 595.65,195.9 590.97,195.95 586.28,195.95 581.6,195.95 576.91,195.95 572.23,196.4 567.55,196.4 562.86,196.4 558.18,202.55 553.49,202.55 548.81,205.1 544.12,205.1 539.44,203.65 534.76,202.1 530.07,196.5 525.39,196.5 520.7,196.5 516.02,196.5 511.34,196.5 506.65,196.5 501.97,196.5 497.28,196.5 492.6,196.5 487.92,196.5 483.23,196.5 478.55,196.5 473.86,196.5 469.18,196.5 464.49,191.5 459.81,191.5 455.13,191.5 450.44,191.5 445.76,191.5 441.07,191.5 436.39,191.5 431.71,191.5 427.02,191.5 422.34,191.5 417.65,191.5 412.97,191.5 408.29,191.5 403.6,191.5 398.92,191.5 394.23,191.5 389.55,191.5 384.86,191.5 380.18,191.5 375.5,191.41 375,191.4 370.81,191.4 366.13,191.4 361.44,191.4 356.76,191.4 352.08,191.4 347.39,191.4 342.71,191.4 338.02,191.4 333.34,191.4 330.8,191.4 328.66,191.83 323.97,192.77 321.8,193.2 319.29,194.1 314.6,195.78 314,196 309.92,198 309.5,198.2 305.23,203.51 305,203.8 301.6,205.6 300.55,205.73 295.87,206.28 291.18,206.84 288.2,207.2 286.5,208.47 281.81,211.98 277.13,215.48 274.7,217.3 272.45,217.31 267.76,217.34 263.08,217.36 258.39,217.38 255,217.4 252,224.72 250.9,227.4 248,245.4 247.5,246.7 243,258.4 238,258.4 230,258.4 222,258.4 216,258.4 210,258.4 205,258.4 200,258.4 193,258.4 192.6,258.4 190,260.33 187.2,262.4 184.7,264.75 182.1,267.2 180.3,267.2 175.2,267.2 168.3,267.2 159.7,267.2 154.5,267.9 151,270.22 145.9,273.6 142.4,274.74 140.7,275.3 137.2,279.04 132.1,284.5 128.6,292.14 125,300 123.4,300.15 118.3,300.61 112.2,301.16 106.2,301.71 101.9,302.1 97.6,302.49 90.7,303.12 86.4,303.51 78.6,304.22 70,305 15,310" fill="#8fc0f5" fill-opacity="0.18" clip-path="url(#abB)"/>
<polyline points="15,300 70,292 78.6,284.5 86.4,279.7 90.7,274.8 97.6,274.1 101.9,272.4 106.2,267.6 112.2,259.8 118.3,258.6 123.4,253.8 128.6,241.7 132.1,236.6 137.2,235.7 142.4,230.5 151,223.6 159.7,218.4 168.3,218.1 175.2,216.7 180.3,215.5 184.7,210.7 190,204.7 193,200.5 200,200.5 205,200 210,198.2 216,196.7 222,193.6 230,190.5 238,189.7 247.5,186 252,181.5 258.39,177.33 263.08,177.05 267.76,176.85 272.45,175.38 277.13,172.6 281.81,172.35 286.5,171.8 291.18,164.3 295.87,164.3 300.55,161.58 305.23,161.58 309.92,159.62 314.6,159.62 319.29,159.62 323.97,165.4 328.66,180.1 333.34,194.3 338.02,195.08 342.71,195.8 347.39,195.8 352.08,195.8 356.76,198.62 361.44,199.5 366.13,202.5 370.81,202.5 375.5,196.07 380.18,196.07 384.86,196.07 389.55,197.55 394.23,197.55 398.92,201.73 403.6,205.55 408.29,206.38 412.97,209.35 417.65,210.13 422.34,210.85 427.02,210.85 431.71,210.85 436.39,214.05 441.07,214.35 445.76,217.35 450.44,217.35 455.13,215.28 459.81,212.47 464.49,217.4 469.18,224.23 473.86,224.23 478.55,224.23 483.23,230.25 487.92,231.2 492.6,230.75 497.28,226.1 501.97,223.85 506.65,222.75 511.34,219.38 516.02,217.38 520.7,213.03 525.39,210.03 530.07,207.78 534.76,202.7 539.44,196.23 544.12,192.68 548.81,191.78 553.49,187.83 558.18,187.83 562.86,181.68 567.55,180.1 572.23,179.15 576.91,172.15 581.6,171.73 586.28,173.23 590.97,172.65 595.65,170.6 600.33,162.9 605.02,157.65 609.7,155.4 614.39,151.78 619.07,151.5 623.75,151.5 628.44,146.62 633.12,145.78 637.81,145.78 642.49,145.78 647.18,144.2 651.86,144.48 656.54,139.58 661.23,139.58 665.91,140.12 670.6,140.08 675.28,139.35 679.96,139.35 684.65,139.35 689.33,139.35 694.02,139.35 698.7,139.03 703.38,138.45 708.07,133.57 712.75,133.98 717.44,139.7 722.12,140.43 726.81,145.83 731.49,147.93 736.17,147.93 740.86,147.93 745.54,149.6 750.23,150.73 754.91,149.38 759.59,145.75 764.28,141 768.96,141 773.65,140.35 778.33,137.65 783.01,135.53 787.7,132.53 792.38,132.53 797.07,129.8 801.75,129.8 806.44,125.7" fill="none" stroke="#33cc33" stroke-width="1.3" stroke-dasharray="4,4"/>
<polyline points="15,310 125,300 132.1,284.5 140.7,275.3 145.9,273.6 154.5,267.9 159.7,267.2 182.1,267.2 187.2,262.4 192.6,258.4 243,258.4 248,245.4 250.9,227.4 255,217.4 274.7,217.3 288.2,207.2 301.6,205.6 305,203.8 309.5,198.2 314,196 321.8,193.2 330.8,191.4 375,191.4 380.18,191.5 384.86,191.5 389.55,191.5 394.23,191.5 398.92,191.5 403.6,191.5 408.29,191.5 412.97,191.5 417.65,191.5 422.34,191.5 427.02,191.5 431.71,191.5 436.39,191.5 441.07,191.5 445.76,191.5 450.44,191.5 455.13,191.5 459.81,191.5 464.49,191.5 469.18,196.5 473.86,196.5 478.55,196.5 483.23,196.5 487.92,196.5 492.6,196.5 497.28,196.5 501.97,196.5 506.65,196.5 511.34,196.5 516.02,196.5 520.7,196.5 525.39,196.5 530.07,196.5 534.76,202.1 539.44,203.65 544.12,205.1 548.81,205.1 553.49,202.55 558.18,202.55 562.86,196.4 567.55,196.4 572.23,196.4 576.91,195.95 581.6,195.95 586.28,195.95 590.97,195.95 595.65,195.9 600.33,191.2 605.02,188.95 609.7,188.95 614.39,188.95 619.07,188.95 623.75,188.95 628.44,188.95 633.12,188.95 637.81,188.95 642.49,188.95 647.18,188.95 651.86,188.95 656.54,188.95 661.23,188.95 665.91,188.95 670.6,188.95 675.28,188.95 679.96,188.95 684.65,188.95 689.33,188.95 694.02,188.95 698.7,188.95 703.38,188.95 708.07,188.95 712.75,187.8 717.44,183.8 722.12,177.8 726.81,171.8 731.49,167.3 736.17,160.05 740.86,159.5 745.54,159.5 750.23,159.5 754.91,159.5 759.59,159.5 764.28,156.55 768.96,153.4 773.65,151.5 778.33,141 783.01,141 787.7,141 792.38,141 797.07,139.55 801.75,139.55 806.44,135.45" fill="none" stroke="#c02020" stroke-width="1.3" stroke-dasharray="4,4"/>
</g>
<path d="M431 191.5H811M703 117.5H811" stroke="#000" stroke-width="1"/>
<text x="436.3" y="188.4" fill="#333">6575.00</text>
<text x="708.6" y="114.9" fill="#333">7520.00</text>
<text x="19.5" y="34" fill="#2a2af0">ICHIMOKU (26, 9)</text>
<path d="M17 328h3v18h-3zM22 333h3v13h-3zM26 330h3v16h-3zM36 329h3v17h-3zM54 328h3v18h-3zM59 328h3v18h-3zM64 329h3v17h-3zM69 333h3v13h-3zM78 333h3v13h-3zM83 330h3v16h-3zM97 325h3v21h-3zM106 327h3v19h-3zM111 328h3v18h-3zM115 330h3v16h-3zM120 328h3v18h-3zM125 327h3v19h-3zM129 328h3v18h-3zM134 324h3v22h-3zM143 317h3v29h-3zM148 326h3v20h-3zM158 332h3v14h-3zM162 337h3v9h-3zM167 326h3v20h-3zM190 323h3v23h-3zM209 308h3v38h-3zM214 315h3v31h-3zM223 325h3v21h-3zM232 330h3v16h-3zM251 324h3v22h-3zM261 329h3v17h-3zM279 329h3v17h-3zM289 329h3v17h-3zM293 331h3v15h-3zM298 330h3v16h-3zM303 328h3v18h-3zM307 330h3v16h-3zM312 331h3v15h-3zM331 332h3v14h-3zM350 330h3v16h-3zM354 330h3v16h-3zM359 331h3v15h-3zM364 328h3v18h-3zM368 328h3v18h-3zM373 326h3v20h-3zM378 326h3v20h-3zM382 332h3v14h-3zM387 324h3v22h-3zM401 332h3v14h-3zM410 330h3v16h-3zM415 327h3v19h-3zM425 330h3v16h-3zM429 325h3v21h-3zM439 326h3v20h-3zM448 326h3v20h-3zM462 325h3v21h-3zM467 327h3v19h-3zM471 331h3v15h-3zM476 331h3v15h-3zM481 328h3v18h-3zM499 331h3v15h-3zM518 323h3v23h-3zM528 330h3v16h-3zM537 332h3v14h-3zM542 332h3v14h-3zM546 328h3v18h-3zM556 332h3v14h-3zM565 335h3v11h-3zM570 330h3v16h-3zM579 324h3v22h-3zM612 330h3v16h-3zM621 329h3v17h-3zM626 335h3v11h-3zM631 328h3v18h-3zM635 331h3v15h-3zM640 323h3v23h-3zM659 332h3v14h-3zM668 330h3v16h-3zM677 329h3v17h-3zM682 329h3v17h-3zM687 330h3v16h-3zM696 332h3v14h-3zM701 324h3v22h-3zM710 333h3v13h-3zM724 328h3v18h-3zM729 328h3v18h-3zM738 332h3v14h-3zM757 330h3v16h-3z" fill="#3cbb3c"/>
<path d="M31 325h3v21h-3zM40 329h3v17h-3zM45 327h3v19h-3zM50 331h3v15h-3zM73 327h3v19h-3zM87 331h3v15h-3zM92 322h3v24h-3zM101 322h3v24h-3zM139 323h3v23h-3zM153 321h3v25h-3zM172 324h3v22h-3zM176 324h3v22h-3zM181 318h3v28h-3zM186 323h3v23h-3zM195 322h3v24h-3zM200 315h3v31h-3zM204 309h3v37h-3zM218 326h3v20h-3zM228 325h3v21h-3zM237 329h3v17h-3zM242 325h3v21h-3zM247 326h3v20h-3zM256 327h3v19h-3zM265 325h3v21h-3zM270 328h3v18h-3zM275 321h3v25h-3zM284 328h3v18h-3zM317 333h3v13h-3zM321 332h3v14h-3zM326 329h3v17h-3zM336 325h3v21h-3zM340 330h3v16h-3zM345 327h3v19h-3zM392 330h3v16h-3zM396 322h3v24h-3zM406 339h3v7h-3zM420 328h3v18h-3zM434 326h3v20h-3zM443 326h3v20h-3zM453 328h3v18h-3zM457 311h3v35h-3zM485 326h3v20h-3zM490 331h3v15h-3zM495 331h3v15h-3zM504 329h3v17h-3zM509 324h3v22h-3zM514 332h3v14h-3zM523 331h3v15h-3zM532 331h3v15h-3zM551 328h3v18h-3zM560 334h3v12h-3zM574 332h3v14h-3zM584 330h3v16h-3zM588 329h3v17h-3zM593 331h3v15h-3zM598 329h3v17h-3zM603 330h3v16h-3zM607 329h3v17h-3zM617 331h3v15h-3zM645 333h3v13h-3zM649 341h3v5h-3zM654 335h3v11h-3zM663 332h3v14h-3zM673 329h3v17h-3zM692 328h3v18h-3zM706 330h3v16h-3zM715 330h3v16h-3zM720 330h3v16h-3zM734 331h3v15h-3zM743 331h3v15h-3zM748 333h3v13h-3zM752 327h3v19h-3zM762 336h3v10h-3z" fill="#fa3c3c"/>
<path d="M16.7 328.5C17.47 328.75 19.75 330 21.3 330C22.85 330 17.88 328.75 26 328.5C34.12 328.25 61.5 328.25 70 328.5C78.5 328.75 74.67 329.67 77 330C79.33 330.33 82.05 330.55 84 330.5C85.95 330.45 87.13 330.03 88.7 329.7C90.27 329.37 91.45 328.83 93.4 328.5C95.35 328.17 98.08 327.9 100.4 327.7C102.72 327.5 103.95 327.37 107.3 327.3C110.65 327.23 117.15 327.45 120.5 327.3C123.85 327.15 125.37 326.63 127.4 326.4C129.43 326.17 130.37 326.13 132.7 325.9C135.03 325.67 138.2 325.07 141.4 325C144.6 324.93 148.42 325.33 151.9 325.5C155.38 325.67 159.12 326 162.3 326C165.48 326 168.08 325.72 171 325.5C173.92 325.28 176.88 324.83 179.8 324.7C182.72 324.57 185.6 324.7 188.5 324.7C191.4 324.7 195.17 324.85 197.2 324.7C199.23 324.55 198.95 324.73 200.7 323.8C202.45 322.87 205.37 320.12 207.7 319.1C210.03 318.08 212.08 317.8 214.7 317.7C217.32 317.6 220.5 318.22 223.4 318.5C226.3 318.78 229.48 319.02 232.1 319.4C234.72 319.78 236.78 320.37 239.1 320.8C241.42 321.23 243.68 321.5 246 322C248.32 322.5 251 323.22 253 323.8C255 324.38 255.05 325.07 258 325.5C260.95 325.93 266.83 326.4 270.7 326.4C274.57 326.4 278 325.45 281.2 325.5C284.4 325.55 285.83 326.32 289.9 326.7C293.97 327.08 301.25 327.42 305.6 327.8C309.95 328.18 312.22 328.65 316 329C319.78 329.35 325.68 329.6 328.3 329.9C330.92 330.2 329.97 330.8 331.7 330.8C333.43 330.8 334.62 330.12 338.7 329.9C342.78 329.68 351.55 329.8 356.2 329.5C360.85 329.2 363.12 328.27 366.6 328.1C370.08 327.93 373.9 328.55 377.1 328.5C380.3 328.45 382.9 328 385.8 327.8C388.7 327.6 391.3 327.18 394.5 327.3C397.7 327.42 401.18 328.27 405 328.5C408.82 328.73 412.42 328.7 417.4 328.7C422.38 328.7 429.67 328.73 434.9 328.5C440.13 328.27 445.02 327.8 448.8 327.3C452.58 326.8 455.27 326 457.6 325.5C459.93 325 460.77 324.43 462.8 324.3C464.83 324.17 467.18 324.5 469.8 324.7C472.42 324.9 475.6 325.28 478.5 325.5C481.4 325.72 484 325.7 487.2 326C490.4 326.3 494.78 326.8 497.7 327.3C500.62 327.8 500.63 328.72 504.7 329C508.77 329.28 517.45 329 522.1 329C526.75 329 529.7 328.85 532.6 329C535.5 329.15 537 329.98 539.5 329.9C542 329.82 545.23 328.65 547.6 328.5C549.97 328.35 551.52 328.68 553.7 329C555.88 329.32 558.67 329.9 560.7 330.4C562.73 330.9 563.28 331.88 565.9 332C568.52 332.12 572.62 331.3 576.4 331.1C580.18 330.9 585.12 330.85 588.6 330.8C592.08 330.75 594.4 331.02 597.3 330.8C600.2 330.58 603.08 329.72 606 329.5C608.92 329.28 611.6 329.28 614.8 329.5C618 329.72 622.3 330.8 625.2 330.8C628.1 330.8 629.58 329.8 632.2 329.5C634.82 329.2 638.28 328.93 640.9 329C643.52 329.07 645.87 329.47 647.9 329.9C649.93 330.33 651.35 331.22 653.1 331.6C654.85 331.98 656.07 332.2 658.4 332.2C660.73 332.2 663.9 331.75 667.1 331.6C670.3 331.45 674.7 331.3 677.6 331.3C680.5 331.3 682.7 331.57 684.5 331.6C686.3 331.63 686.18 331.67 688.4 331.5C690.62 331.33 695.37 331.02 697.8 330.6C700.23 330.18 700.73 329.1 703 329C705.27 328.9 708.25 329.93 711.4 330C714.55 330.07 718.42 329.5 721.9 329.4C725.38 329.3 728.82 329.3 732.3 329.4C735.78 329.5 740 329.8 742.8 330C745.6 330.2 746.67 330.7 749.1 330.6C751.53 330.5 755.13 329.4 757.4 329.4C759.67 329.4 761.82 330.4 762.7 330.6" fill="none" stroke="#2a8cff" stroke-width="1.5" stroke-opacity="0.85"/>
<text x="19.1" y="300.7" fill="#44bb44">VOLUME</text>
<path d="M18.5 419.5C18.58 418.95 17.92 416.82 19 416.2C20.08 415.58 23.5 415.92 25 415.8C26.5 415.68 26.33 415.42 28 415.5C29.67 415.58 32.67 416.05 35 416.3C37.33 416.55 40.17 416.47 42 417C43.83 417.53 45.33 419.08 46 419.5Z" fill="#a8d0fa"/>
<path d="M67 419.5C67.67 419.25 69.67 418 71 418C72.33 418 74.33 419.25 75 419.5Z" fill="#a8d0fa"/>
<path d="M128 419.5C128.83 419 131.5 416.92 133 416.5C134.5 416.08 135.83 416.5 137 417C138.17 417.5 139.5 419.08 140 419.5Z" fill="#a8d0fa"/>
<path d="M163 419.5C164.17 419.25 167.67 418 170 418C172.33 418 175.83 419.25 177 419.5Z" fill="#a8d0fa"/>
<path d="M305 419.5C305.83 419.08 308.17 417.67 310 417C311.83 416.33 314 415.58 316 415.5C318 415.42 319.67 416 322 416.5C324.33 417 327.5 418 330 418.5C332.5 419 335.83 419.33 337 419.5Z" fill="#a8d0fa"/>
<path d="M365.6 419.5C366.67 418.92 369.93 417.08 372 416C374.07 414.92 375.97 413.8 378 413C380.03 412.2 381.87 411.32 384.2 411.2C386.53 411.08 389.37 411.83 392 412.3C394.63 412.77 397.58 413.57 400 414C402.42 414.43 404.33 414.98 406.5 414.9C408.67 414.82 410.52 413.87 413 413.5C415.48 413.13 417.83 412.93 421.4 412.7C424.97 412.47 430.97 412.13 434.4 412.1C437.83 412.07 439.52 412.28 442 412.5C444.48 412.72 447.47 412.98 449.3 413.4C451.13 413.82 451.77 414.38 453 415C454.23 415.62 455.3 416.5 456.7 417.1C458.1 417.7 459.18 418.32 461.4 418.6C463.62 418.88 467.73 418.98 470 418.8C472.27 418.62 473.5 417.9 475 417.5C476.5 417.1 476.47 416.47 479 416.4C481.53 416.33 486.7 416.78 490.2 417.1C493.7 417.42 497.52 417.9 500 418.3C502.48 418.7 504.25 419.3 505.1 419.5Z" fill="#a8d0fa"/>
<path d="M629.8 419.5C630.83 419.08 633.83 417.7 636 417C638.17 416.3 640.13 415.58 642.8 415.3C645.47 415.02 649.47 415.05 652 415.3C654.53 415.55 656.12 416.35 658 416.8C659.88 417.25 660.57 417.92 663.3 418C666.03 418.08 670.38 417.82 674.4 417.3C678.42 416.78 682.75 415.62 687.4 414.9C692.05 414.18 697.65 413 702.3 413C706.95 413 711.57 414.07 715.3 414.9C719.03 415.73 721.58 417.23 724.7 418C727.82 418.77 732.45 419.25 734 419.5Z" fill="#a8d0fa"/>
<path d="M18.75 370C20.21 369.5 23.96 367.71 27.5 367C31.04 366.29 36.67 365.67 40 365.75C43.33 365.83 44.58 366.79 47.5 367.5C50.42 368.21 53.54 369.92 57.5 370C61.46 370.08 67.5 368 71.25 368C75 368 77.29 369.25 80 370C82.71 370.75 85 371.46 87.5 372.5C90 373.54 92.92 375.42 95 376.25C97.08 377.08 97.92 376.67 100 377.5C102.08 378.33 104.17 380.33 107.5 381.25C110.83 382.17 116.67 383.21 120 383C123.33 382.79 124.79 381 127.5 380C130.21 379 133.33 376.71 136.25 377C139.17 377.29 141.04 380.96 145 381.75C148.96 382.54 155.83 382.25 160 381.75C164.17 381.25 167.08 379.04 170 378.75C172.92 378.46 174.58 379.17 177.5 380C180.42 380.83 184.17 382.58 187.5 383.75C190.83 384.92 195.08 385.75 197.5 387C199.92 388.25 200.54 388.88 202 391.25C203.46 393.62 204.71 398.62 206.25 401.25C207.79 403.88 208.96 405.42 211.25 407C213.54 408.58 216.88 409.62 220 410.75C223.12 411.88 226.67 412.83 230 413.75C233.33 414.67 237.71 415.54 240 416.25C242.29 416.96 242.08 416.96 243.75 418C245.42 419.04 247.5 421.25 250 422.5C252.5 423.75 256.04 425 258.75 425.5C261.46 426 263.96 424.96 266.25 425.5C268.54 426.04 270.21 427.17 272.5 428.75C274.79 430.33 277.5 433.21 280 435C282.5 436.79 285 438.25 287.5 439.5C290 440.75 292.92 442.08 295 442.5C297.08 442.92 297.92 442.83 300 442C302.08 441.17 304.58 439.42 307.5 437.5C310.42 435.58 314.58 431.46 317.5 430.5C320.42 429.54 322.5 431.5 325 431.75C327.5 432 330.42 431.67 332.5 432C334.58 432.33 335.83 432.62 337.5 433.75C339.17 434.88 340.42 437.29 342.5 438.75C344.58 440.21 347.08 441.88 350 442.5C352.92 443.12 357.29 443.04 360 442.5C362.71 441.96 363.75 441.33 366.25 439.25C368.75 437.17 371.88 433.33 375 430C378.12 426.67 381.88 421.96 385 419.25C388.12 416.54 390.42 414.88 393.75 413.75C397.08 412.62 402.08 413.04 405 412.5C407.92 411.96 409.17 411.83 411.25 410.5C413.33 409.17 415 406.58 417.5 404.5C420 402.42 423.96 399.92 426.25 398C428.54 396.08 429.58 394.25 431.25 393C432.92 391.75 434.58 391.62 436.25 390.5C437.92 389.38 439.38 387.46 441.25 386.25C443.12 385.04 445.21 383.96 447.5 383.25C449.79 382.54 452.29 381.62 455 382C457.71 382.38 460.83 385.42 463.75 385.5C466.67 385.58 470.21 383.5 472.5 382.5C474.79 381.5 475.42 380.42 477.5 379.5C479.58 378.58 482.5 377.46 485 377C487.5 376.54 489.58 376.79 492.5 376.75C495.42 376.71 499.58 376.21 502.5 376.75C505.42 377.29 507.5 378.75 510 380C512.5 381.25 515 382.92 517.5 384.25C520 385.58 522.92 387.25 525 388C527.08 388.75 528.33 388.21 530 388.75C531.67 389.29 532.92 390.75 535 391.25C537.08 391.75 540.42 391.83 542.5 391.75C544.58 391.67 545.42 390.5 547.5 390.75C549.58 391 552.92 392.62 555 393.25C557.08 393.88 558.54 393.88 560 394.5C561.46 395.12 561.67 396.29 563.75 397C565.83 397.71 570.42 398.17 572.5 398.75C574.58 399.33 574.58 400.08 576.25 400.5C577.92 400.92 580.21 400.58 582.5 401.25C584.79 401.92 587.08 402.83 590 404.5C592.92 406.17 596.88 409.08 600 411.25C603.12 413.42 605.62 416.12 608.75 417.5C611.88 418.88 615.94 419.58 618.75 419.5C621.56 419.42 623.29 417.78 625.6 417C627.91 416.22 629.82 416.33 632.6 414.8C635.38 413.27 639.28 409.57 642.3 407.8C645.32 406.03 646.97 404.8 650.7 404.2C654.43 403.6 661.45 404.62 664.7 404.2C667.95 403.78 667.65 402.5 670.2 401.7C672.75 400.9 676.97 400.72 680 399.4C683.03 398.08 685.83 395.28 688.4 393.8C690.97 392.32 692.85 391.98 695.4 390.5C697.95 389.02 700.45 386.58 703.7 384.9C706.95 383.22 712.1 381.1 714.9 380.4C717.7 379.7 717.95 380.65 720.5 380.7C723.05 380.75 727.65 380.52 730.2 380.7C732.75 380.88 733.7 381.8 735.8 381.8C737.9 381.8 740.7 380.78 742.8 380.7C744.9 380.62 746.07 380.6 748.4 381.3C750.73 382 754.25 383.65 756.8 384.9C759.35 386.15 762.55 388.15 763.7 388.8" fill="none" stroke="#3030e8" stroke-width="1.2"/>
<text x="19.75" y="361.7" fill="#2a2af0">MACD (15, 40, 5)</text>
<polygon points="18.9,543.5 18.9,527 23.1,524.7 27.7,522.8 32.6,525.7 37.9,524.1 41.5,525.4 51.25,529.5 65,522.5 70,521.75 74.5,523.25 85,520 93.75,525 98.75,523 103.75,525.75 110,522 117.5,518 127.5,513 136.25,507.5 141.25,510.75 145,507 150,503.75 155,507.5 162.5,505 168.75,501.75 172.5,503.25 180,507.5 187.5,514.5 192,512 197.5,515 206.25,523.75 215,515.5 220,517 225,514.25 228.75,516.25 233.75,514.5 238.75,516.25 243.75,519.5 248.75,522.5 253.75,520 257.5,522 262.5,520 270,524.5 277,528.75 281.25,527 285.5,528.5 292.5,526.25 300,522 307.5,518.75 313.75,515.75 320,518.75 327.5,521.75 333.75,520 340,523.75 347,527.5 355,522.5 365,518.75 370,515 377.5,512 388.75,506.25 392.5,507 397.5,512 403.75,510 410,510.75 417.5,506.25 422.5,507.5 431.25,503 435,505.5 440.5,503 445.5,506.25 450.5,503.25 455,505 459.5,510 465,507 472.5,503.25 478.75,500.5 483,498 488.75,501.25 496.25,504.25 502.5,503 510,508 516.25,509.5 520,507 525,508.25 533.75,508.75 541.25,506.25 547.5,503 552.5,505.75 557.5,504.25 562.5,505 572.5,501.75 577.5,502.5 580.5,500 590,505 600,509.25 608.75,513 613.75,511.25 618.75,513 627.5,509.5 635,505.5 641.25,502 645.1,503.1 651.5,503.9 656.6,505.7 660.5,504.4 665.6,505.7 670.7,503.9 675.8,505.7 682.2,502.6 688.6,499.8 693.7,501.9 702.7,497.3 707,498.5 712.1,496.7 721.9,501.1 730.8,496 735.9,497.5 740.3,496 744.9,498.5 749.5,499.3 753.8,502.6 759,501.1 764.1,502.4 764.1,543.5" fill="#7fb8f0" fill-opacity="0.17"/>
<path d="M18.9 543V527" stroke="#8080e8" stroke-width="1.5"/>
<path d="M18.9 531.5C20.25 531.08 24.48 529.53 27 529C29.52 528.47 32.17 528.72 34 528.3C35.83 527.88 34.92 526.8 38 526.5C41.08 526.2 48 526.62 52.5 526.5C57 526.38 60.42 525.88 65 525.75C69.58 525.62 75 526.21 80 525.75C85 525.29 90 523.54 95 523C100 522.46 105.42 522.79 110 522.5C114.58 522.21 118.33 522.08 122.5 521.25C126.67 520.42 130.42 519.04 135 517.5C139.58 515.96 145 513.67 150 512C155 510.33 160.42 508.58 165 507.5C169.58 506.42 174.17 505.71 177.5 505.5C180.83 505.29 181.25 505.58 185 506.25C188.75 506.92 195.42 508.25 200 509.5C204.58 510.75 208.33 512.58 212.5 513.75C216.67 514.92 222.08 516 225 516.5C227.92 517 226.67 516.5 230 516.75C233.33 517 241.25 517.79 245 518C248.75 518.21 249.58 517.75 252.5 518C255.42 518.25 258.33 518.75 262.5 519.5C266.67 520.25 272.92 521.67 277.5 522.5C282.08 523.33 285 524.17 290 524.5C295 524.83 302.5 524.96 307.5 524.5C312.5 524.04 316.25 522.38 320 521.75C323.75 521.12 326.67 521.04 330 520.75C333.33 520.46 335.83 519.71 340 520C344.17 520.29 350.83 522.17 355 522.5C359.17 522.83 360.83 522.5 365 522C369.17 521.5 375 520.88 380 519.5C385 518.12 390.42 515.25 395 513.75C399.58 512.25 403.75 511.33 407.5 510.5C411.25 509.67 414.17 509.25 417.5 508.75C420.83 508.25 424.58 507.62 427.5 507.5C430.42 507.38 432.5 508.12 435 508C437.5 507.88 439.17 507.17 442.5 506.75C445.83 506.33 450.83 505.58 455 505.5C459.17 505.42 462.92 506.46 467.5 506.25C472.08 506.04 477.92 504.58 482.5 504.25C487.08 503.92 490.83 504.46 495 504.25C499.17 504.04 503.75 503 507.5 503C511.25 503 513.75 503.58 517.5 504.25C521.25 504.92 525.83 506.38 530 507C534.17 507.62 538.33 508.12 542.5 508C546.67 507.88 550.83 506.67 555 506.25C559.17 505.83 563.33 505.92 567.5 505.5C571.67 505.08 576.67 504.25 580 503.75C583.33 503.25 584.17 502.5 587.5 502.5C590.83 502.5 596.25 503.12 600 503.75C603.75 504.38 605.83 505.21 610 506.25C614.17 507.29 620.83 509.38 625 510C629.17 510.62 631.67 510.29 635 510C638.33 509.71 641.62 508.88 645 508.25C648.38 507.62 651.02 506.93 655.3 506.2C659.58 505.47 664.3 504.28 670.7 503.9C677.1 503.52 687.73 504.33 693.7 503.9C699.67 503.47 701.38 501.98 706.5 501.3C711.62 500.62 719.28 500.27 724.4 499.8C729.52 499.33 733.37 498.67 737.2 498.5C741.03 498.33 742.92 498.75 747.4 498.8C751.88 498.85 761.32 498.8 764.1 498.8" fill="none" stroke="#c83030" stroke-width="1.5"/>
<polyline points="18.9,527 23.1,524.7 27.7,522.8 32.6,525.7 37.9,524.1 41.5,525.4 51.25,529.5 65,522.5 70,521.75 74.5,523.25 85,520 93.75,525 98.75,523 103.75,525.75 110,522 117.5,518 127.5,513 136.25,507.5 141.25,510.75 145,507 150,503.75 155,507.5 162.5,505 168.75,501.75 172.5,503.25 180,507.5 187.5,514.5 192,512 197.5,515 206.25,523.75 215,515.5 220,517 225,514.25 228.75,516.25 233.75,514.5 238.75,516.25 243.75,519.5 248.75,522.5 253.75,520 257.5,522 262.5,520 270,524.5 277,528.75 281.25,527 285.5,528.5 292.5,526.25 300,522 307.5,518.75 313.75,515.75 320,518.75 327.5,521.75 333.75,520 340,523.75 347,527.5 355,522.5 365,518.75 370,515 377.5,512 388.75,506.25 392.5,507 397.5,512 403.75,510 410,510.75 417.5,506.25 422.5,507.5 431.25,503 435,505.5 440.5,503 445.5,506.25 450.5,503.25 455,505 459.5,510 465,507 472.5,503.25 478.75,500.5 483,498 488.75,501.25 496.25,504.25 502.5,503 510,508 516.25,509.5 520,507 525,508.25 533.75,508.75 541.25,506.25 547.5,503 552.5,505.75 557.5,504.25 562.5,505 572.5,501.75 577.5,502.5 580.5,500 590,505 600,509.25 608.75,513 613.75,511.25 618.75,513 627.5,509.5 635,505.5 641.25,502 645.1,503.1 651.5,503.9 656.6,505.7 660.5,504.4 665.6,505.7 670.7,503.9 675.8,505.7 682.2,502.6 688.6,499.8 693.7,501.9 702.7,497.3 707,498.5 712.1,496.7 721.9,501.1 730.8,496 735.9,497.5 740.3,496 744.9,498.5 749.5,499.3 753.8,502.6 759,501.1 764.1,502.4" fill="none" stroke="#3434d8" stroke-width="1.3" stroke-linejoin="round"/>
<text x="19.9" y="491.6" fill="#2a2af0">OBV</text>
<text x="816.2" y="41.9" fill="#666">8 500</text>
<text x="816.2" y="80.5" fill="#666">8 000</text>
<text x="816.2" y="119.5" fill="#666">7 500</text>
<text x="816.2" y="158.8" fill="#666">7 000</text>
<text x="816.2" y="198" fill="#666">6 500</text>
<text x="816.2" y="237.1" fill="#666">6 000</text>
<text x="816.2" y="276.3" fill="#666">5 500</text>
<rect x="813" y="52.2" width="47" height="16.8" fill="#008000"/>
<text x="816.2" y="64.7" fill="#fff" font-weight="bold">8 259</text>
<rect x="813" y="89.1" width="47" height="16.6" fill="#1a1a1a"/>
<text x="816.2" y="101.7" fill="#fff" font-weight="bold">7 789</text>
<text x="816" y="316" fill="#666">30M</text>
<text x="816.5" y="345.6" fill="#666">0</text>
<rect x="813" y="322.3" width="47" height="16.7" fill="#00a000"/>
<text x="815.5" y="335.5" fill="#fff" font-weight="bold">9195K</text>
<text x="815.4" y="371" fill="#666">400.0</text>
<rect x="813" y="371.5" width="47" height="16.5" fill="#c00000"/>
<rect x="813" y="375.1" width="47" height="16.5" fill="#0000f0"/>
<text x="815.5" y="388" fill="#fff" font-weight="bold">239.2</text>
<text x="816.8" y="421.3" fill="#666">0</text>
<text x="816.2" y="471.3" fill="#666">-400.0</text>
<text x="816.5" y="486.6" fill="#666">400K</text>
<rect x="813" y="488.3" width="47" height="16.6" fill="#0000b0"/>
<text x="815.5" y="501" fill="#fff" font-weight="bold">282K</text>
<text x="816.5" y="517" fill="#666">200K</text>
<text x="816.5" y="545.3" fill="#666">0</text>
<text x="103" y="573.7" fill="#666" text-anchor="middle">09/2021</text>
<text x="182.3" y="573.7" fill="#666" text-anchor="middle">01/2022</text>
<text x="262.1" y="573.7" fill="#666" text-anchor="middle">05/2022</text>
<text x="342.2" y="573.7" fill="#666" text-anchor="middle">09/2022</text>
<text x="421.5" y="573.7" fill="#666" text-anchor="middle">01/2023</text>
<text x="501.2" y="573.7" fill="#666" text-anchor="middle">05/2023</text>
<text x="580.1" y="573.7" fill="#666" text-anchor="middle">09/2023</text>
<text x="660" y="573.7" fill="#666" text-anchor="middle">01/2024</text>
<text x="740.2" y="573.7" fill="#666" text-anchor="middle">04/2024</text>
</svg></body></html>
